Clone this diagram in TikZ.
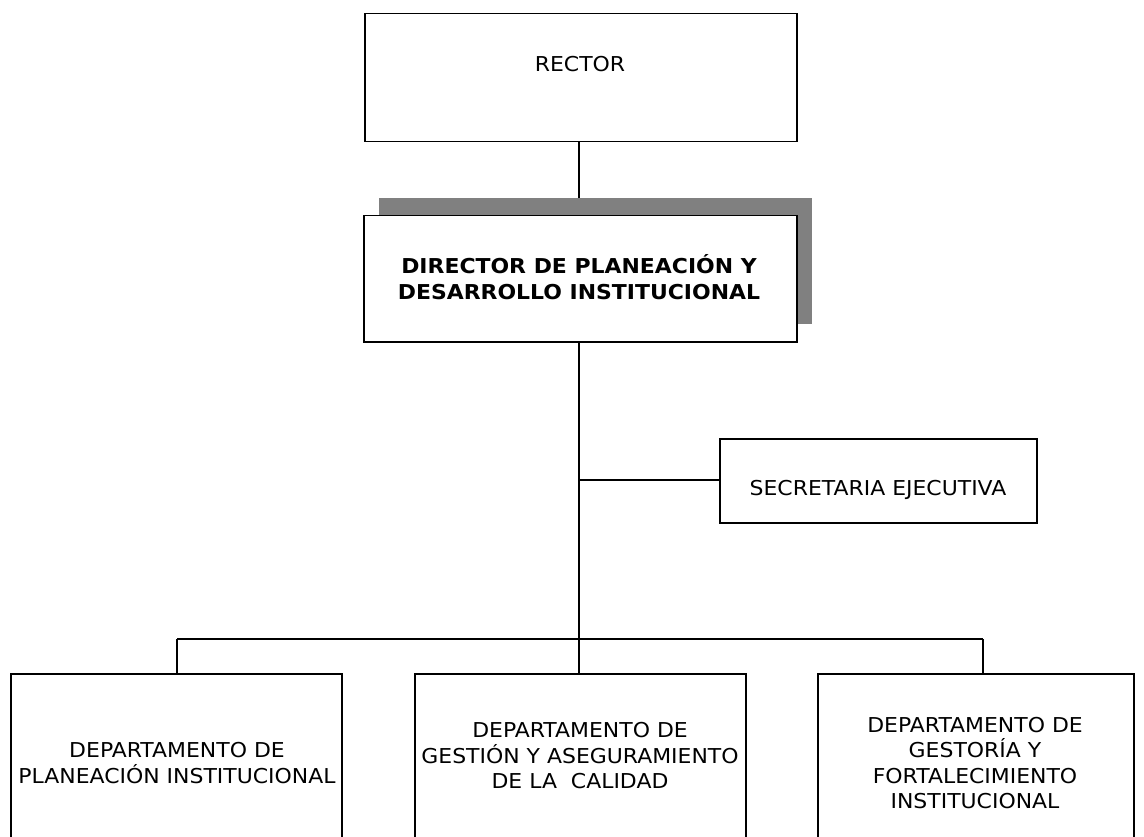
\documentclass[tikz,border=0pt]{standalone}
\usepackage{fontspec}
\setmainfont{DejaVu Sans}[FakeStretch=1.07]
\usepackage{xcolor}
\usetikzlibrary{positioning}
\definecolor{shadowgray}{RGB}{128,128,128}
\tikzstyle{box} = [draw, line width=1.5pt, inner sep=0pt, anchor=north west]
\tikzstyle{txt} = [align=center, inner sep=0pt, font=\fontsize{20.5}{25.5}\selectfont]
\tikzstyle{line} = [draw, line width=1.5pt]

\begin{document}
\begin{tikzpicture}[x=1pt, y=-1pt]
		            \useasboundingbox (0,0) rectangle (1144,837);
		                % top of the chart
		                \fill [shadowgray] (379,198) rectangle (812,324);
		                \node [box, minimum width=432pt, minimum height=128pt] (rector) at (364,13) {};
		                \node [txt] (rectortxt) at (580,64) {RECTOR};
		                \node [box, fill=white, minimum width=433pt, minimum height=126pt] (director) at (363,215) {};
		                \node [txt, font=\fontsize{20.5}{25.5}\selectfont\bfseries] (directortxt) at (579,277) {DIRECTOR DE PLANEACIÓN Y\\DESARROLLO INSTITUCIONAL};
		                % staff unit
		                \node [box, minimum width=317pt, minimum height=84pt] (secretaria) at (719,438) {};
		                \node [txt] (secretariatxt) at (878,490) {SECRETARIA EJECUTIVA};
		                % departments
		                \node [box, minimum width=331pt, minimum height=190pt] (planeacion) at (10,673) {};
		                \node [box, minimum width=331pt, minimum height=190pt] (gestion) at (414,673) {};
		                \node [box, minimum width=316pt, minimum height=190pt] (gestoria) at (817,673) {};
		                \node [txt] (planeaciontxt) at (177,763) {DEPARTAMENTO DE\\PLANEACIÓN INSTITUCIONAL};
		                \node [txt] (gestiontxt) at (580,756) {DEPARTAMENTO DE\\GESTIÓN Y ASEGURAMIENTO\\DE LA \ CALIDAD};
		                \node [txt] (gestoriatxt) at (975,763) {DEPARTAMENTO DE\\GESTORÍA Y\\FORTALECIMIENTO\\INSTITUCIONAL};
		                % connectors
		                \coordinate (shadowtop) at (579,198);
		                \coordinate (staff) at (579,480);
		                \coordinate (bus) at (579,639);
		                \coordinate (busleft) at (177,639);
		                \coordinate (busright) at (983,639);
		                \path [line] (rector.south -| shadowtop) -- (shadowtop);
		                \path [line] (director.south -| bus) -- (bus);
		                \path [line] (staff) -- (secretaria.west |- staff);
		                \path [line] (busleft) -- (busright);
		                \path [line] (busleft) -- (busleft |- planeacion.north);
		                \path [line] (bus) -- (bus |- gestion.north);
		                \path [line] (busright) -- (busright |- gestoria.north);
		            \end{tikzpicture}
\end{document}
